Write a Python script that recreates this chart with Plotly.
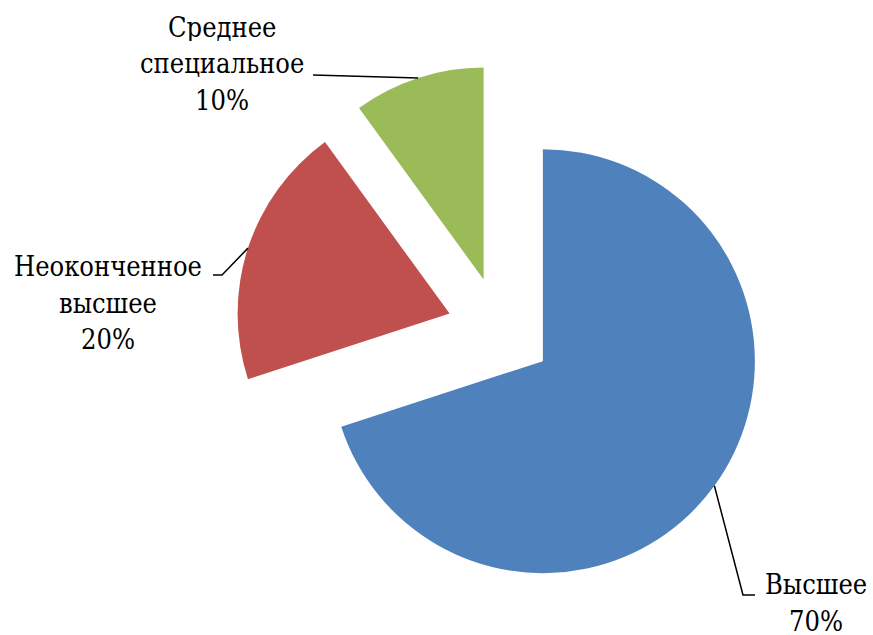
import math
import plotly.graph_objects as go

# Education level shares
categories = ["Высшее", "Неоконченное высшее", "Среднее специальное"]
shares = [70, 20, 10]
colors = ["#4F81BD", "#C0504D", "#9BBB59"]
label_lines = [["Высшее"], ["Неоконченное", "высшее"], ["Среднее", "специальное"]]

W, H = 873, 635
PULL = 0.25
CX, CY = 500, 330          # pie centre in pixels
R = 212                    # slice radius in pixels
half = R * (1 + PULL)

# label centre x / first-line centre y (px), line step, leader elbow / end (px)
label_pos = [(816, 584), (108, 266), (222, 27)]
LINE_STEP = 36.5
leader_bend = [(743, 595), (222, 275), (313, 75)]
leader_end = [(755, 595), (213, 275), (313, 75)]

FONT = "DejaVu Serif Condensed, DejaVu Serif, serif"
FONT_SIZE = 27

fig = go.Figure(go.Pie(
    labels=categories,
    values=shares,
    sort=False,
    direction="clockwise",
    rotation=0,
    pull=[PULL] * len(shares),
    marker=dict(colors=colors, line=dict(width=0)),
    textinfo="none",
    hoverinfo="label+percent",
    domain=dict(x=[(CX - half) / W, (CX + half) / W],
                y=[1 - (CY + half) / H, 1 - (CY - half) / H]),
    showlegend=False,
))


def px(x, y):
    return x / W, 1 - y / H


total = sum(shares)
start = 0.0
for i, v in enumerate(shares):
    frac = v / total
    mid = (start + frac / 2) * 2 * math.pi   # clockwise from 12 o'clock
    start += frac
    dx, dy = math.sin(mid), -math.cos(mid)
    # exploded slice centre, then point on its arc at the mid-angle
    scx, scy = CX + PULL * R * dx, CY + PULL * R * dy
    ax, ay = scx + R * dx, scy + R * dy
    bx, by = leader_bend[i]
    ex, ey = leader_end[i]
    p = [px(ax, ay), px(bx, by), px(ex, ey)]
    fig.add_shape(type="path", xref="paper", yref="paper",
                  path=f"M {p[0][0]} {p[0][1]} L {p[1][0]} {p[1][1]} L {p[2][0]} {p[2][1]}",
                  line=dict(color="black", width=1.5))
    lines = label_lines[i] + [f"{round(100 * frac)}%"]
    lx0, ly0 = label_pos[i]
    for k, line in enumerate(lines):
        lx, ly = px(lx0, ly0 + k * LINE_STEP)
        fig.add_annotation(x=lx, y=ly, xref="paper", yref="paper",
                           text=line, showarrow=False, height=28,
                           xanchor="center", yanchor="middle",
                           font=dict(family=FONT, size=FONT_SIZE, color="black"))

fig.update_layout(
    width=W, height=H,
    margin=dict(l=0, r=0, t=0, b=0),
    paper_bgcolor="white",
    plot_bgcolor="white",
    font=dict(family=FONT),
)

fig.write_html("out.html")
